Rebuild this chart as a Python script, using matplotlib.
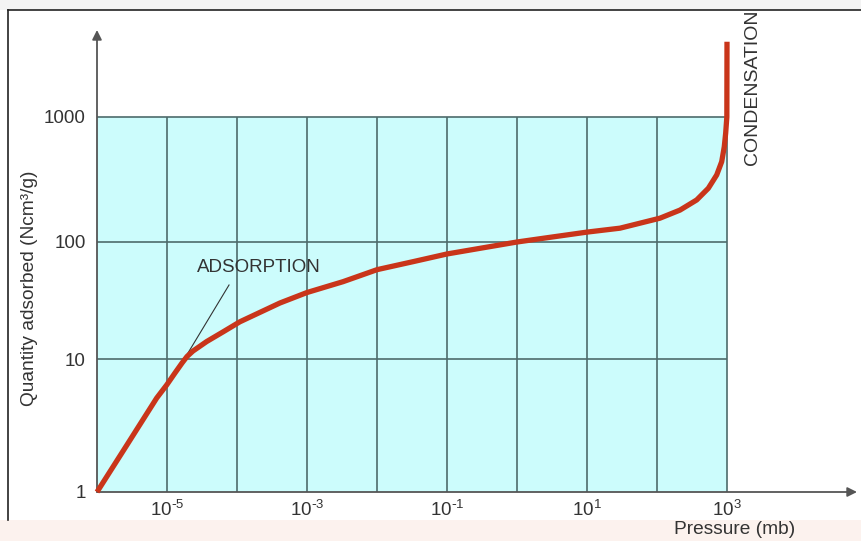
import numpy as np
import matplotlib.pyplot as plt
from matplotlib.patches import Rectangle
from matplotlib.lines import Line2D

plt.rcParams['font.family'] = ['Liberation Sans', 'DejaVu Sans']

# isotherm: pressure (mb) vs quantity adsorbed (Ncm3/g)
pressure = [1e-6, 2.68e-6, 7.13e-6, 9.9e-6, 1.3e-5, 1.64e-5, 1.93e-5, 2.35e-5,
            3.69e-5, 6.37e-5, 1.1e-4, 4.1e-4, 1e-3, 3.27e-3, 1e-2, 3.27e-2,
            1e-1, 0.296, 1, 2.96, 10, 29.6, 110, 213, 369, 541, 713, 840, 914,
            957, 995, 1000]
quantity = [1, 2.26, 5.09, 6.38, 7.85, 9.33, 10.5, 11.7,
            14.1, 17.1, 20.8, 30.1, 37, 45.8, 58, 67.9,
            79, 88.3, 100, 109, 120, 129, 155, 180, 217, 269, 344, 439, 578,
            741, 1000, 4000]

x_ticks = [1e-5, 1e-3, 1e-1, 1e1, 1e3]
x_tick_labels = [r'$\mathregular{10^{\text{-}5}}$', r'$\mathregular{10^{\text{-}3}}$',
                 r'$\mathregular{10^{\text{-}1}}$', r'$\mathregular{10^{1}}$',
                 r'$\mathregular{10^{3}}$']
y_ticks = [1, 10, 100, 1000]
y_tick_labels = ['1', '10', '100', '1000']
x_grid = [1e-5, 1e-4, 1e-3, 1e-2, 1e-1, 1, 10, 100, 1000]
y_grid = [10, 100, 1000]

# the decades on the vertical axis are not evenly spaced
dec_log = [-2, 0, 1, 2, 3, 6]
dec_pos = [-266, 0, 133, 250, 375, 750]


def y_fwd(v):
    v = np.clip(np.asarray(v, dtype=float), 1e-12, None)
    return np.interp(np.log10(v), dec_log, dec_pos)


def y_inv(p):
    return 10 ** np.interp(p, dec_pos, dec_log)


W, H = 861, 541
fig = plt.figure(figsize=(W / 100, H / 100), dpi=100)
fig.patch.set_facecolor('white')
ax = fig.add_axes([97 / W, (H - 492) / H, (857 - 97) / W, (492 - 30) / H])
ax.set_xscale('log')
ax.set_yscale('function', functions=(y_fwd, y_inv))
ax.set_xlim(1e-6, 10 ** (-6 + (857 - 97) / 70))
ax.set_ylim(1, 10 ** 3.696)
ax.patch.set_alpha(0)
for s in ax.spines.values():
    s.set_visible(False)

# cyan panel and grid
ax.fill_between([1e-6, 1e3], 1, 1000, color='#ccfcfc', lw=0, zorder=0)
ax.vlines(x_grid, 1, 1000, color='#4d6b6b', lw=1.2, zorder=1)
ax.hlines(y_grid, 1e-6, 1e3, color='#4d6b6b', lw=1.2, zorder=1)

# axes with arrow heads
ax.annotate('', xy=(1.0, 0), xycoords='axes fraction', xytext=(0, 0),
            arrowprops=dict(arrowstyle='-|>', color='#555555', lw=1.3,
                            mutation_scale=14, shrinkA=0, shrinkB=0), zorder=2)
ax.annotate('', xy=(0, 1.0), xycoords='axes fraction', xytext=(0, 0),
            arrowprops=dict(arrowstyle='-|>', color='#555555', lw=1.3,
                            mutation_scale=14, shrinkA=0, shrinkB=0), zorder=2)

ax.plot(pressure, quantity, color='#c9351a', lw=3.8, solid_capstyle='butt',
        solid_joinstyle='round', zorder=4, clip_on=False)

ax.set_xticks(x_ticks)
ax.set_xticklabels(x_tick_labels)
ax.set_yticks(y_ticks)
ax.set_yticklabels(y_tick_labels)
ax.minorticks_off()
ax.tick_params(axis='both', length=0, labelsize=13.5, colors='#333333')
ax.tick_params(axis='x', pad=6)
ax.tick_params(axis='y', pad=8)

# label for the adsorption branch
ax.plot([10 ** -4.114, 10 ** -4.857], [42.9, 8.1], color='#333333', lw=0.8, zorder=3)
ax.text(10 ** -4.571, 60, 'ADSORPTION', fontsize=13.5, color='#333333',
        ha='left', va='center', zorder=5)

fig.text(30 / W, 1 - 288 / H, 'Quantity adsorbed (Ncm³/g)', rotation=90,
         ha='center', va='center', fontsize=13.8, color='#333333', zorder=12)
fig.text(735 / W, 1 - 529 / H, 'Pressure (mb)', ha='center', va='center',
         fontsize=13.8, color='#333333', zorder=12)
fig.text(753 / W, 1 - 165 / H, 'CONDENSATION', rotation=90, ha='center',
         va='bottom', fontsize=14, color='#333333', zorder=5)

# outer frame
fig.add_artist(Rectangle((0, 1 - 10 / H), 1, 10 / H, transform=fig.transFigure,
                         facecolor='#f3f3f3', edgecolor='none', zorder=10))
fig.add_artist(Rectangle((0, 0), 1, 21 / H, transform=fig.transFigure,
                         facecolor='#fcf2ee', edgecolor='none', zorder=0.5))
fig.add_artist(Line2D([8 / W, 8 / W], [21 / H, 1 - 10 / H], transform=fig.transFigure,
                      color='#222222', lw=1.2, zorder=11))
fig.add_artist(Line2D([8 / W, 1], [1 - 10 / H, 1 - 10 / H], transform=fig.transFigure,
                      color='#222222', lw=1.2, zorder=11))

fig.savefig('out.png', dpi=100)
